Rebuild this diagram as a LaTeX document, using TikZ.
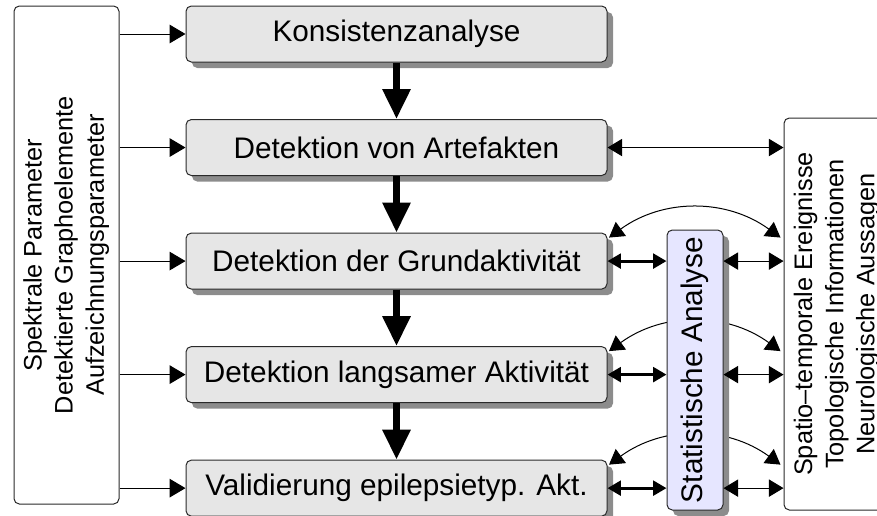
\documentclass[tikz,border=0pt]{standalone}
\usepackage{fontspec}
\setmainfont{Liberation Sans}
\usetikzlibrary{arrows.meta, positioning, shadows, calc}
\definecolor{boxgray}{HTML}{E6E6E6}
\definecolor{shadegray}{HTML}{8C8C8C}
\definecolor{statblue}{HTML}{E6E6FF}
\definecolor{rimgray}{HTML}{2A2A2A}

\begin{document}
\begin{tikzpicture}[x=0.75pt, y=-0.75pt,
  stage/.style={draw=rimgray, line width=0.75pt, fill=boxgray, rounded corners=4pt,
    minimum width=315.75pt, minimum height=42pt, inner sep=0pt,
    font=\fontsize{22.3}{26}\selectfont,
    drop shadow={shadow xshift=4.5pt, shadow yshift=-4.5pt, fill=shadegray, opacity=1}},
  side/.style={draw=rimgray, line width=0.75pt, fill=white, rounded corners=4pt,
    inner sep=0pt, font=\fontsize{19}{23.4}\selectfont},
  feed/.style={-{Triangle[length=12pt, width=14pt]}, line width=0.75pt},
  flow/.style={-{Triangle[length=22.5pt, width=20pt]}, line width=5.25pt},
  link/.style={{Triangle[length=11pt, width=13pt]}-{Triangle[length=11pt, width=13pt]},
    line width=0.75pt},
  boldlink/.style={{Triangle[length=10pt, width=11pt]}-{Triangle[length=10pt, width=11pt]},
    line width=2.25pt}
]
\useasboundingbox (0,0) rectangle (877,515);

% Verarbeitungskette
\node[stage] (b1) at (396.5,34) {Konsistenzanalyse};
\node[stage, below=42.4pt of b1] (b2) {Detektion von Artefakten};
\node[stage, below=42.4pt of b2] (b3) {Detektion der Grundaktivität};
\node[stage, below=42.4pt of b3] (b4) {Detektion langsamer Aktivität};
\node[stage, below=42.4pt of b4] (b5) {Validierung epilepsietyp. Akt.};

% Eingaben und Ergebnisse
\node[side, minimum width=78.75pt, minimum height=373.5pt] (lbox) at (66.5,255)
  {\rotatebox{90}{\begin{tabular}{@{}c@{}}Spektrale Parameter\\Detektierte Graphoelemente\\Aufzeichnungsparameter\end{tabular}}};
\node[side, minimum width=79.5pt, minimum height=294pt] (rbox) at (837,314)
  {\rotatebox{90}{\begin{tabular}{@{}c@{}}Spatio--temporale Ereignisse\\Topologische Informationen\\Neurologische Aussagen\end{tabular}}};

% Boegen (hinter der Statistik)
\foreach \b in {b3,b4,b5}
  \draw[link] ($(\b.north east)+(1.5,5)$) to[out=36, in=144] ($(\b.north east -| rbox.west)+(-3,5)$);

\node[stage, fill=statblue, minimum width=42pt, minimum height=210pt] (stat) at (695,370)
  {\rotatebox{90}{Statistische Analyse}};

\foreach \b in {b1,b2,b3,b4,b5}
  \draw[feed] (\b.west -| lbox.east) -- (\b.west);
\foreach \a/\b in {b1/b2,b2/b3,b3/b4,b4/b5}
  \draw[flow] (\a.south) -- (\b.north);
\draw[link] (b2.east) -- (b2.east -| rbox.west);
\foreach \b in {b3,b4,b5} {
  \draw[boldlink] (\b.east) -- (\b.east -| stat.west);
  \draw[link] (\b.east -| stat.east) -- (\b.east -| rbox.west);
}
\end{tikzpicture}
\end{document}
